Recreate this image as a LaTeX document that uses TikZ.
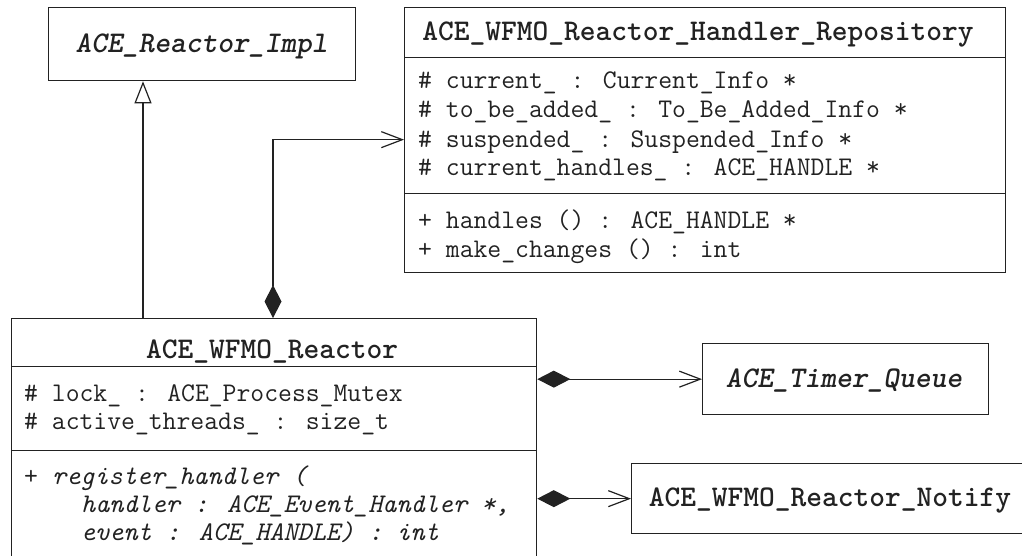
\documentclass[tikz,border=0pt]{standalone}
\usepackage{fontspec}
\usetikzlibrary{arrows.meta}
\definecolor{ink}{HTML}{222222}
\tikzset{
  cls/.style={draw=ink, line width=1.3pt, anchor=north west, inner sep=0pt},
  ttl/.style={text=ink, font=\ttfamily\bfseries\fontsize{30}{34}\selectfont, anchor=base, inner sep=0pt},
  ttli/.style={ttl, font=\ttfamily\bfseries\itshape\fontsize{30}{34}\selectfont},
  attr/.style={text=ink, font=\ttfamily\fontsize{26.9}{30}\selectfont, anchor=base west, inner sep=0pt},
  meth/.style={attr, font=\ttfamily\itshape\fontsize{26.9}{30}\selectfont},
  conn/.style={draw=ink, line width=1.2pt},
  comp/.style={conn, {Diamond[length=33pt,width=17pt]}-{Straight Barb[length=21pt,width=16pt,line width=1.2pt]}},
  inh/.style={conn, -{Triangle[open,length=22pt,width=17pt,line width=1.2pt]}}
}
\begin{document}
\begin{tikzpicture}[x=1pt,y=-1pt]
\clip (0,0) rectangle (1022,555);
\fill[white] (0,0) rectangle (1022,555);

% ACE_Reactor_Impl
\node[cls, minimum width=307pt, minimum height=73pt] (impl) at (48,7) {};
\node[ttli] (impltxt) at (201.5,52) {ACE\_Reactor\_Impl};

% Repository
\node[cls, minimum width=601pt, minimum height=50pt] (repotitle) at (404,7) {};
\node[cls, minimum width=601pt, minimum height=136pt] (repoattr) at (404,57) {};
\node[cls, minimum width=601pt, minimum height=79pt] (repometh) at (404,193) {};
\node[ttl] (repotxt) at (698,40) {ACE\_WFMO\_Reactor\_Handler\_Repository};
\node[attr] (ra1) at (418,88.5) {\# current\_ : Current\_Info *};
\node[attr] (ra2) at (418,117.5) {\# to\_be\_added\_ : To\_Be\_Added\_Info *};
\node[attr] (ra3) at (418,147) {\# suspended\_ : Suspended\_Info *};
\node[attr] (ra4) at (418,175) {\# current\_handles\_ : ACE\_HANDLE *};
\node[attr] (rm1) at (418,228) {+ handles () : ACE\_HANDLE *};
\node[attr] (rm2) at (418,257) {+ make\_changes () : int};

% ACE_WFMO_Reactor
\node[cls, minimum width=525pt, minimum height=48pt] (wrtitle) at (11,318) {};
\node[cls, minimum width=525pt, minimum height=84pt] (wrattr) at (11,366) {};
\node[cls, minimum width=525pt, minimum height=120pt] (wrmeth) at (11,450) {};
\node[ttl] (wrtxt) at (272,358) {ACE\_WFMO\_Reactor};
\node[attr] (wa1) at (24,401) {\# lock\_ : ACE\_Process\_Mutex};
\node[attr] (wa2) at (24,429.5) {\# active\_threads\_ : size\_t};
\node[meth] (wm1) at (24,484) {{\upshape +} register\_handler (};
\node[meth] (wm2) at (81,512) {handler : ACE\_Event\_Handler *,};
\node[meth] (wm3) at (81,540) {event : ACE\_HANDLE) : int};

% ACE_Timer_Queue
\node[cls, minimum width=286pt, minimum height=71pt] (timer) at (702,343) {};
\node[ttli] (timertxt) at (844,387) {ACE\_Timer\_Queue};

% ACE_WFMO_Reactor_Notify
\node[cls, minimum width=398pt, minimum height=70pt] (notify) at (631,463) {};
\node[ttl] (notifytxt) at (830,506) {ACE\_WFMO\_Reactor\_Notify};

% connectors
\coordinate (inhs) at ([xshift=132pt]wrtitle.north west);
\draw[inh] (inhs) -- (inhs |- impl.south);
\coordinate (comps) at ([xshift=262pt]wrtitle.north west);
\draw[comp] (comps) |- ([yshift=-14pt]repoattr.west);
\draw[comp] (wrattr.east |- timer.west) -- (timer.west);
\draw[comp] (wrmeth.east |- notify.west) -- (notify.west);
\end{tikzpicture}
\end{document}
